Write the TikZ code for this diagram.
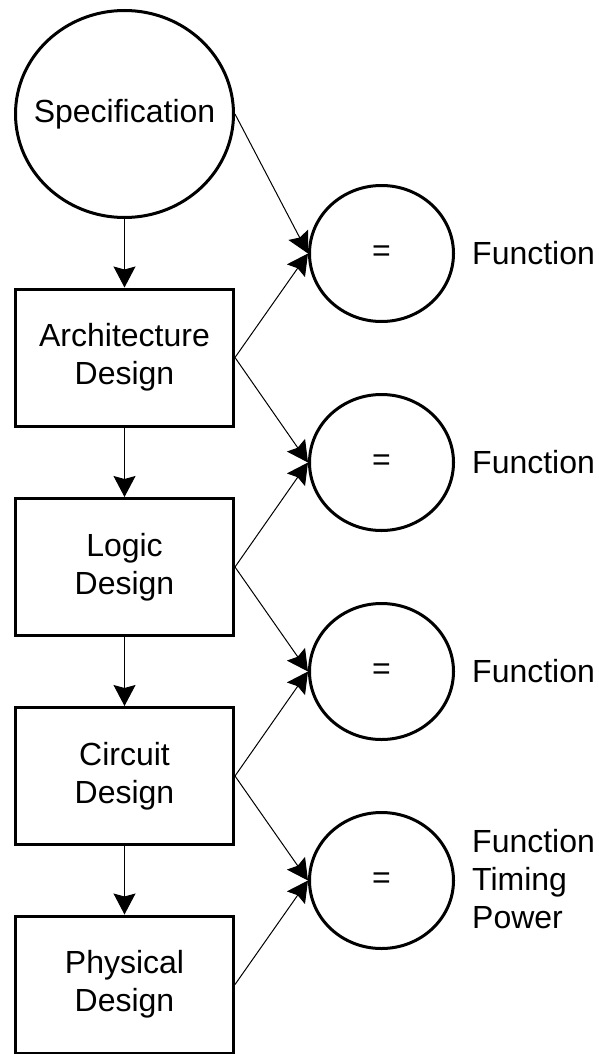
\documentclass[tikz,border=0pt]{standalone}
\usepackage{fontspec}
\setmainfont{Liberation Sans}
\usetikzlibrary{shapes.geometric,arrows.meta}
\begin{document}
\begin{tikzpicture}[x=1pt,y=-1pt,
  txt/.style={font=\fontsize{32}{38}\selectfont, align=center},
  bigcirc/.style={ellipse, draw, line width=3pt, minimum width=218pt, minimum height=207pt, inner sep=0pt},
  stagebox/.style={rectangle, draw, line width=3pt, minimum width=218pt, minimum height=137pt, inner sep=0pt, txt},
  eqcirc/.style={ellipse, draw, line width=3pt, minimum width=144pt, minimum height=136pt, inner sep=0pt, txt},
  lbl/.style={anchor=west, inner sep=0pt, font=\fontsize{32}{38}\selectfont, align=left},
  conn/.style={line width=1pt, -{Stealth[length=21pt,width=22pt,inset=3pt]}}]
\path[use as bounding box] (0,0) rectangle (599,1054);

\node[bigcirc] (spec) at (124.5,114) {};
\node[txt, inner sep=0pt] (spectext) at (spec.center) {Specification};
\node[stagebox] (arch) at (124.5,357.5) {Architecture\\Design};
\node[stagebox] (logic) at (124.5,567) {Logic\\Design};
\node[stagebox] (circ) at (124.5,776) {Circuit\\Design};
\node[stagebox] (phys) at (124.5,984.5) {Physical\\Design};

\node[eqcirc] (e1) at (381.5,253.5) {=};
\node[eqcirc] (e2) at (381.5,462.5) {=};
\node[eqcirc] (e3) at (381.5,671.5) {=};
\node[eqcirc] (e4) at (381.5,880.5) {=};

\node[lbl] (l1) at (472,253.5) {Function};
\node[lbl] (l2) at (472,462.5) {Function};
\node[lbl] (l3) at (472,671.5) {Function};
\node[lbl] (l4) at (472,879.5) {Function\\Timing\\Power};

\draw[conn] (spec.south) -- (arch.north);
\draw[conn] (arch.south) -- (logic.north);
\draw[conn] (logic.south) -- (circ.north);
\draw[conn] (circ.south) -- (phys.north);

\draw[conn] (spec.east) -- (e1.west);
\draw[conn] (arch.east) -- (e1.west);
\draw[conn] (arch.east) -- (e2.west);
\draw[conn] (logic.east) -- (e2.west);
\draw[conn] (logic.east) -- (e3.west);
\draw[conn] (circ.east) -- (e3.west);
\draw[conn] (circ.east) -- (e4.west);
\draw[conn] (phys.east) -- (e4.west);
\end{tikzpicture}
\end{document}
